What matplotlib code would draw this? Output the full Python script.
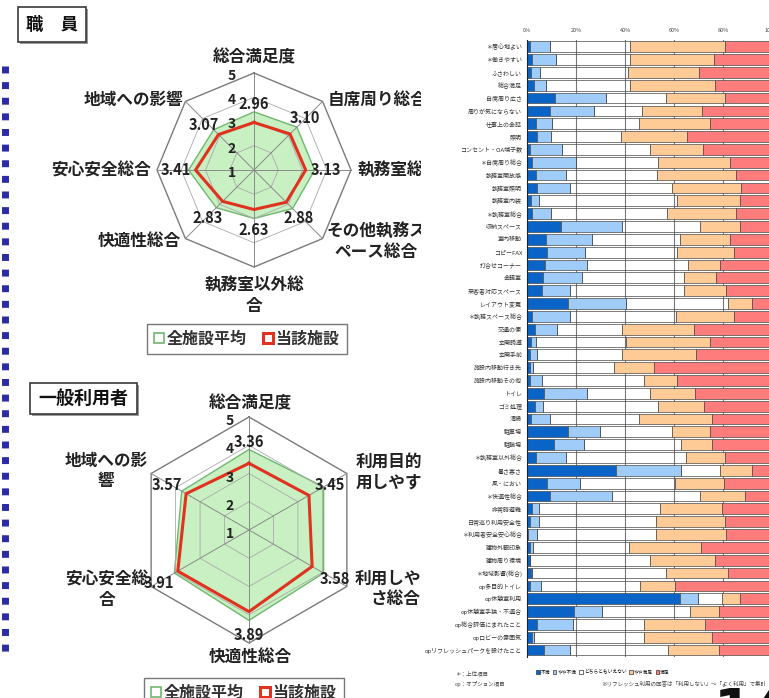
import numpy as np
import matplotlib
matplotlib.use("Agg")
import matplotlib.pyplot as plt
from matplotlib.transforms import Bbox
from matplotlib.lines import Line2D
from matplotlib.patches import Rectangle

plt.rcParams['font.family'] = ['Noto Sans CJK JP', 'DejaVu Sans']

W, H = 769, 698

# =========================================================
# DATA
# =========================================================
staff_axes = ["総合満足度", "自席周り総合", "執務室総合", "その他執務ス\nペース総合",
              "執務室以外総\n合", "快適性総合", "安心安全総合", "地域への影響"]
staff_avg = [3.40, 3.50, 3.50, 3.25, 3.00, 3.20, 3.70, 3.35]
staff_site = [2.96, 3.10, 3.13, 2.88, 2.63, 2.83, 3.41, 3.07]

user_axes = ["総合満足度", "利用目的利\n用しやすさ", "利用しやす\nさ総合",
             "快適性総合", "安心安全総\n合", "地域への影\n響"]
user_avg = [3.85, 4.05, 4.05, 4.20, 4.05, 3.75]
user_site = [3.36, 3.45, 3.58, 3.89, 3.91, 3.57]

radar_ticks = [1, 2, 3, 4, 5]
series_names = ["全施設平均", "当該施設"]

items = ["＊居心地よい", "＊働きやすい", "ふさわしい", "総合満足", "自席周り広さ",
         "周りが気にならない", "仕事上の会話", "照明", "コンセント・OA端子数", "＊自席周り総合",
         "執務室開放感", "執務室照明", "執務室内装", "＊執務室総合", "収納スペース",
         "室内移動", "コピーFAX", "打合せコーナー", "会議室", "来客者対応スペース",
         "レイアウト変更", "＊執務スペース総合", "交通の便", "玄関誘導", "玄関手前",
         "施設内移動行き先", "施設内移動その他", "トイレ", "ゴミ処理", "清掃",
         "駐車場", "駐輪場", "＊執務室以外総合", "暑さ寒さ", "風・におい",
         "＊快適性総合", "非常時避難", "日常巡り利用安全性", "＊利用者安全安心総合", "建物外観印象",
         "建物周り環境", "＊地域影響(総合)", "op多目的トイレ", "op休憩室利用", "op休憩室手狭・不適合",
         "op総合評価にまれたこと", "opロビーの雰囲気", "opリフレッシュパークを設けたこと"]

p_fuman = [1.4, 2.0, 1.5, 2.9, 11.3, 9.5, 3.5, 4.1, 1.1, 1.9,
           3.5, 4.2, 1.8, 1.9, 14.0, 7.6, 8.3, 7.3, 6.7, 6.0,
           16.7, 1.9, 3.4, 1.8, 1.4, 1.1, 1.1, 6.8, 3.4, 1.8,
           16.7, 10.9, 3.5, 36.5, 8.3, 9.3, 2.0, 1.1, 0.4, 1.4,
           1.1, 1.8, 1.1, 62.3, 19.2, 4.1, 2.2, 6.8]
p_yaya_fuman = [7.9, 9.7, 3.7, 4.7, 20.8, 17.7, 6.7, 5.8, 13.0, 18.0,
                12.3, 13.2, 3.1, 8.0, 24.9, 18.9, 15.5, 17.3, 15.9, 11.4,
                23.8, 15.5, 9.0, 1.7, 2.7, 1.3, 5.2, 17.8, 3.1, 7.5,
                13.0, 12.2, 12.6, 26.2, 13.2, 25.5, 2.9, 3.8, 3.8, 1.0,
                0.3, 0.4, 4.8, 7.6, 11.4, 14.7, 0.7, 10.6]
p_neutral = [32.9, 30.5, 36.0, 34.6, 24.8, 19.7, 35.4, 28.6, 36.0, 33.6,
             37.3, 41.9, 56.3, 47.4, 31.6, 36.1, 37.4, 41.1, 41.5, 46.7,
             41.5, 43.6, 26.5, 36.8, 34.8, 33.0, 41.3, 25.7, 47.0, 36.3,
             29.6, 39.9, 48.9, 15.9, 38.8, 35.9, 49.5, 47.9, 48.6, 39.1,
             48.9, 54.7, 40.4, 9.8, 36.1, 28.8, 44.7, 40.2]
p_yaya_manzoku = [38.5, 34.1, 29.0, 34.4, 24.1, 24.7, 29.2, 26.8, 21.7, 29.2,
                  32.3, 28.2, 25.6, 28.1, 16.3, 20.1, 23.2, 12.9, 12.9, 17.0,
                  9.8, 23.5, 29.3, 34.3, 29.9, 16.4, 13.8, 18.1, 18.7, 30.0,
                  15.5, 12.6, 15.7, 13.4, 20.0, 18.1, 25.3, 27.9, 28.6, 29.4,
                  26.3, 25.1, 14.0, 7.1, 11.7, 25.2, 28.0, 20.8]
p_manzoku = [19.3, 23.7, 29.8, 23.4, 19.0, 28.4, 25.2, 34.7, 28.2, 17.3,
             14.6, 12.5, 13.2, 14.6, 13.2, 17.3, 15.6, 21.4, 23.0, 18.9,
             8.2, 15.5, 31.8, 25.4, 31.2, 48.2, 38.6, 31.6, 27.8, 24.4,
             25.2, 24.4, 19.3, 8.0, 19.7, 11.2, 20.3, 19.3, 18.6, 29.1,
             23.4, 18.0, 39.7, 13.2, 21.6, 27.2, 24.4, 21.6]
answer_names = ["不満", "やや不満", "どちらともいえない", "やや満足", "満足"]
pct_ticks = [0, 20, 40, 60, 80, 100]

# =========================================================
# STYLE / LAYOUT
# =========================================================
GREEN_FILL = "#c8f0c2"
GREEN_EDGE = "#6fb86f"
RED = "#e0321e"
answer_colors = ["#0a64c8", "#9fccf8", "none", "#fecb96", "#fe7c7c"]

fig = plt.figure(figsize=(W / 100, H / 100), dpi=100)

# overlay in pixel coordinates for decorations
bg = fig.add_axes([0, 0, 1, 1])
bg.set_xlim(0, W)
bg.set_ylim(H, 0)
bg.axis("off")

clip_left = Bbox.from_extents(0, 0, 421, H)


def title_box(x0, y0, x1, y1, text, size):
    bg.add_patch(Rectangle((x0 + 2, y0 + 2), x1 - x0, y1 - y0, fc="#9a9a9a", ec="none"))
    bg.add_patch(Rectangle((x0, y0), x1 - x0, y1 - y0, fc="white", ec="#3a3a3a", lw=1.2))
    bg.text((x0 + x1) / 2, (y0 + y1) / 2, text, ha="center", va="center",
            fontsize=size, fontweight="bold", color="#111111")


def radar(cx, cy, rad, labels, avg, site, label_pos, value_off, tick_off, legend_xy):
    ax = fig.add_axes([(cx - rad) / W, 1 - (cy + rad) / H, 2 * rad / W, 2 * rad / H],
                      projection="polar")
    ax.set_theta_zero_location("N")
    ax.set_theta_direction(-1)
    ax.set_ylim(radar_ticks[0], radar_ticks[-1])
    ax.grid(False)
    ax.set_xticks([])
    ax.set_yticks([])
    ax.spines["polar"].set_visible(False)
    ax.patch.set_alpha(0)

    n = len(labels)
    theta = np.linspace(0, 2 * np.pi, n, endpoint=False)
    tc = np.append(theta, theta[0])

    ax.fill(tc, avg + avg[:1], color=GREEN_FILL, ec=GREEN_EDGE, lw=1.0, zorder=1)
    for r in radar_ticks[1:]:
        ax.plot(tc, [r] * (n + 1), color="#7a7a7a" if r == 5 else "#a9a9a9",
                lw=1.0 if r == 5 else 0.6, zorder=2, clip_on=False)
    for t in theta:
        ax.plot([t, t], [radar_ticks[0], radar_ticks[-1]], color="#8a8a8a", lw=0.7,
                zorder=2, clip_on=False)
    ax.plot(tc, site + site[:1], color=RED, lw=2.2, zorder=3, clip_on=False)

    for r in radar_ticks:
        ax.annotate(str(r), xy=(0, r), xytext=(tick_off[0] * 0.72, -tick_off[1] * 0.72),
                    textcoords="offset points", ha="center", va="center",
                    fontsize=10, fontweight="bold", color="#222222")
    for t, v, (dx, dy) in zip(theta, site, value_off):
        ax.annotate(f"{v:.2f}", xy=(t, v), xytext=(dx * 0.72, -dy * 0.72),
                    textcoords="offset points", ha="center", va="center",
                    fontsize=10.5, fontweight="bold", color="#222222")

    for lab, (x, y, ha) in zip(labels, label_pos):
        txt = bg.text(x, y, lab, ha=ha, va="center", multialignment="center",
                      fontsize=12, fontweight="bold", color="#222222", linespacing=1.2)
        txt.set_clip_box(clip_left)
        txt.set_clip_on(True)

    handles = [Line2D([], [], ls="none", marker="s", ms=7, mfc="white", mec=GREEN_EDGE, mew=1.2),
               Line2D([], [], ls="none", marker="s", ms=7, mfc="white", mec=RED, mew=2.2)]
    leg = fig.legend(handles, series_names, loc="center",
                     bbox_to_anchor=(legend_xy[0] / W, 1 - legend_xy[1] / H),
                     ncol=2, frameon=True, fancybox=False,
                     handlelength=0.6, handletextpad=0.2, columnspacing=1.0,
                     borderpad=0.45, prop={"weight": "bold", "size": 11.5})
    leg.get_frame().set_edgecolor("#555555")
    leg.get_frame().set_linewidth(1.0)
    for tx in leg.get_texts():
        tx.set_color("#333333")
    return ax


# left dotted marker line
bg.add_line(Line2D([4.5, 4.5], [66, 652], color="#2b2ba6", lw=5.0,
                   linestyle=(0, (1.0, 1.25)), solid_capstyle="butt", dash_capstyle="butt"))

# staff radar
title_box(18, 7, 86, 42, "職　員", 12.5)
radar(254, 170, 97, staff_axes, staff_avg, staff_site,
      label_pos=[(254, 57, "center"), (328, 100, "left"), (358, 171, "left"),
                 (376, 242, "center"), (254, 296, "center"), (181, 241, "right"),
                 (151, 171, "right"), (183, 100, "right")],
      value_off=[(0, -18), (15, -16), (20, 0), (12, 16), (0, 20), (-15, 17), (-20, 0), (-15, -10)],
      tick_off=(-22, 3), legend_xy=(247, 339))

# user radar
title_box(30, 383, 137, 414, "一般利用者", 13)
radar(249, 530, 113, user_axes, user_avg, user_site,
      label_pos=[(250, 403, "center"), (397, 472, "center"), (396, 589, "center"),
                 (250, 657, "center"), (107, 590, "center"), (106, 471, "center")],
      value_off=[(0, -21), (21, -10), (23, 13), (0, 23), (-19, 12), (-19, -9)],
      tick_off=(-19, 4), legend_xy=(244, 693))

# =========================================================
# STACKED BAR CHART (right)
# =========================================================
top_px, bot_px = 40.3, 656.5
axb = fig.add_axes([527 / W, 1 - bot_px / H, 245 / W, (bot_px - top_px) / H])
y = np.arange(len(items))
left = np.zeros(len(items))
for vals, col, name in zip([p_fuman, p_yaya_fuman, p_neutral, p_yaya_manzoku, p_manzoku],
                           answer_colors, answer_names):
    axb.barh(y, vals, left=left, height=0.84, color=col, edgecolor="#4a4a4a",
             linewidth=0.5, label=name, zorder=2)
    left += np.array(vals)

axb.set_xlim(0, 100)
axb.set_ylim(len(items) - 0.5, -0.5)
axb.set_xticks(pct_ticks)
axb.set_xticklabels([f"{t}%" for t in pct_ticks])
axb.xaxis.tick_top()
axb.tick_params(axis="x", length=0, labelsize=4, pad=5, labelcolor="#444444")
axb.set_yticks(y)
axb.set_yticklabels(items)
axb.tick_params(axis="y", length=0, labelsize=4.3, pad=3.5, labelcolor="#333333")
axb.grid(axis="x", color="#777777", lw=0.8, zorder=0)
for s in ["top", "right", "bottom"]:
    axb.spines[s].set_visible(False)
axb.spines["left"].set_color("#222222")
axb.spines["left"].set_linewidth(0.8)

bl = axb.legend(loc="center", bbox_to_anchor=(603 / W, 1 - 672 / H),
                bbox_transform=fig.transFigure, ncol=5, fontsize=3.4, frameon=False,
                handlelength=0.7, handleheight=0.7, handletextpad=0.25, columnspacing=0.6)
for p in bl.get_patches():
    p.set_edgecolor("#333333")

bg.text(455, 673, "＊：上位項目", fontsize=4, ha="left", va="center", color="#444444")
bg.text(455, 684, "op：オプション項目", fontsize=4, ha="left", va="center", color="#444444")
bg.text(601, 684, "※リフレッシュ利用の回答は「利用しない」～「よく利用」で集計",
        fontsize=4, ha="left", va="center", color="#444444")

# page number, cut by the frame
bg.text(714, 686, "14", fontsize=40, fontweight="bold", ha="left", va="top",
        family="DejaVu Sans", color="#111111")

fig.savefig("out.png", dpi=100)
